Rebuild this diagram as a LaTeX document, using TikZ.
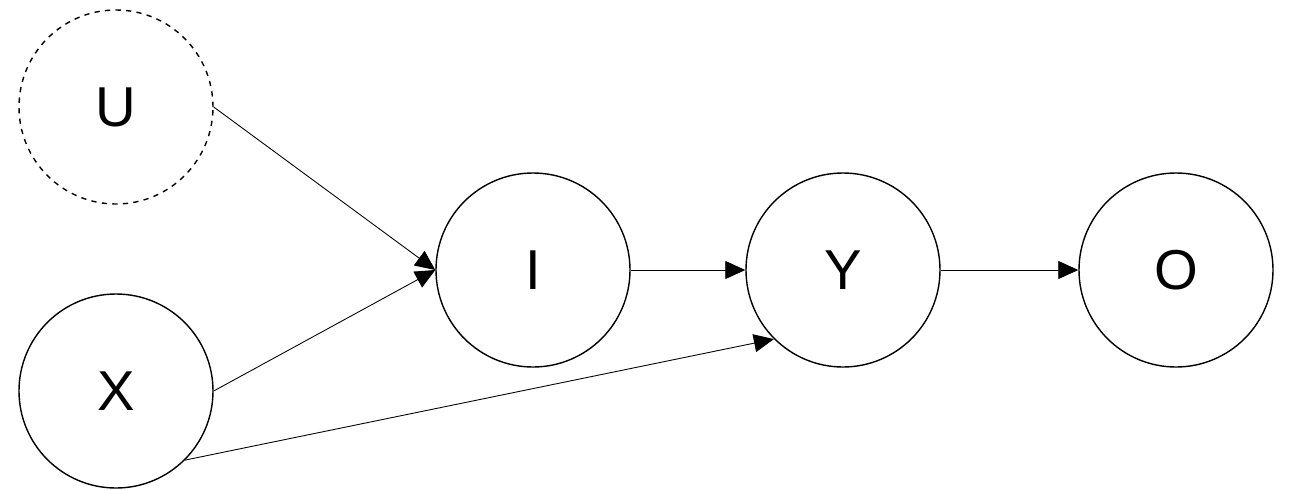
\documentclass[tikz,border=0pt]{standalone}
\usepackage{fontspec}
\setmainfont{Liberation Sans}
\usetikzlibrary{arrows.meta}
\begin{document}
\begin{tikzpicture}
	[every node/.style={circle,draw,line width=0.8pt,minimum size=3.88cm,inner sep=0pt,font=\fontsize{32}{36}\selectfont},
	edge/.style={line width=0.5pt,-{Triangle[length=0.4cm,width=0.36cm]}}]
	\useasboundingbox (0,0) rectangle (25.8,9.8);
	\node (U) [dashed] at (2.32,7.66) {U};
	\node (X) at (2.32,1.98) {X};
	\node (I) at (10.66,4.4) {I};
	\node (Y) at (16.86,4.4) {Y};
	\node (O) at (23.52,4.4) {O};
	\draw [edge] (U.east) -- (I.west);
	\draw [edge] (X.east) -- (I.west);
	\draw [edge] (X.south east) -- (Y.south west);
	\draw [edge] (I) -- (Y);
	\draw [edge] (Y) -- (O);
\end{tikzpicture}
\end{document}
